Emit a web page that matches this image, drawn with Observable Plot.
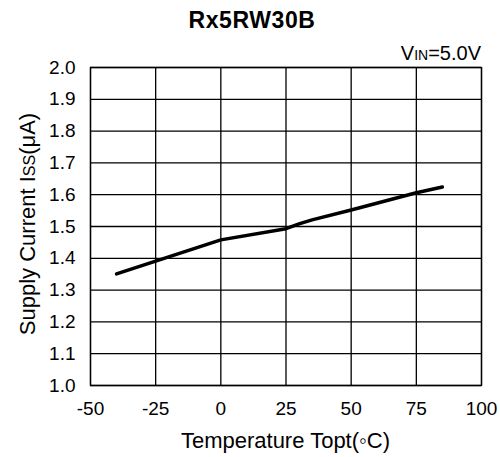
<!DOCTYPE html>
<html><head><meta charset="utf-8">
<script src="https://cdn.jsdelivr.net/npm/d3@7"></script>
<script src="https://cdn.jsdelivr.net/npm/@observablehq/plot@0.6"></script>
<style>body{margin:0;background:#fff;} svg{font-family:"Liberation Sans",Arial,sans-serif;}</style>
</head><body><div id="chart"></div>
<script>
const temps = [-40, -25, 0, 25, 30, 35, 50, 75, 85];
const current = [1.351, 1.391, 1.458, 1.493, 1.508, 1.521, 1.552, 1.606, 1.624];
const xTicks = [-50, -25, 0, 25, 50, 75, 100];
const yTicks = [1.0, 1.1, 1.2, 1.3, 1.4, 1.5, 1.6, 1.7, 1.8, 1.9, 2.0];
const data = temps.map((t, i) => ({t, v: current[i]}));

const W = 500, H = 457;
const mL = 90, mR = 19, mT = 67, mB = 72;
const plot = Plot.plot({
  width: W, height: H,
  marginLeft: mL, marginRight: mR, marginTop: mT, marginBottom: mB,
  style: {fontSize: "19px", fontFamily: "Liberation Sans, Arial, sans-serif", color: "#000", background: "#fff"},
  x: {domain: [-50, 100], ticks: xTicks, label: null},
  y: {domain: [1.0, 2.0], ticks: yTicks, label: null},
  marks: [
    Plot.gridX(xTicks, {stroke: "#000", strokeOpacity: 1, strokeWidth: 1.3}),
    Plot.gridY(yTicks, {stroke: "#000", strokeOpacity: 1, strokeWidth: 1.3}),
    Plot.frame({stroke: "#000", strokeWidth: 1.3}),
    Plot.axisX(xTicks, {tickSize: 0, tickPadding: 16, fontSize: 19, label: null, tickFormat: d => String(d)}),
    Plot.axisY(yTicks, {tickSize: 0, tickPadding: 15, fontSize: 19, label: null, tickFormat: d => d.toFixed(1)}),
    Plot.line(data, {x: "t", y: "v", stroke: "#000", strokeWidth: 3.5})
  ]
});
document.getElementById("chart").appendChild(plot);
const svg = d3.select(plot);
const cx = mL + (W - mL - mR) / 2;
svg.append("text").attr("x", 252).attr("y", 28).attr("text-anchor", "middle")
  .attr("font-size", 23).attr("letter-spacing", 0.6).attr("font-weight", "bold").text("Rx5RW30B");
const v = svg.append("text").attr("x", W - mR).attr("y", 60).attr("text-anchor", "end").attr("font-size", 20);
v.append("tspan").text("V");
v.append("tspan").attr("font-size", 14).text("IN");
v.append("tspan").text("=5.0V");
svg.append("text").attr("x", cx).attr("y", 448).attr("text-anchor", "middle").attr("font-size", 22)
  .text("Temperature Topt(\u25e6C)");
const yl = svg.append("text").attr("transform", `translate(35,${mT + (H - mT - mB) / 2 - 2}) rotate(-90)`)
  .attr("text-anchor", "middle").attr("font-size", 22);
yl.append("tspan").text("Supply Current I");
yl.append("tspan").attr("font-size", 16).text("SS");
yl.append("tspan").text("(\u03bcA)");
</script></body></html>
